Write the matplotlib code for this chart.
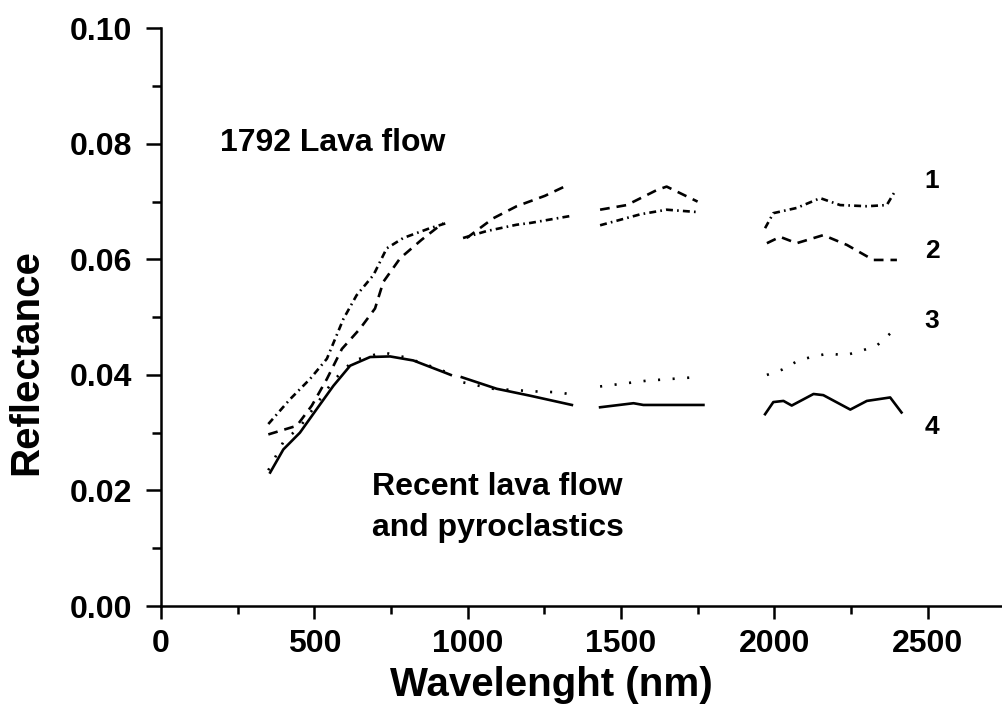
import numpy as np
import matplotlib
matplotlib.use("Agg")
import matplotlib.pyplot as plt
from matplotlib.ticker import MultipleLocator, FormatStrFormatter

nan = np.nan

# Spectra (gaps = NaN, atmospheric absorption bands)
wl_1 = [350, 421, 486, 541, 595, 638, 693, 736, 790, 877, 932, nan,
        985, 1062, 1160, 1204, 1334, nan,
        1432, 1563, 1649, 1747, nan,
        1970, 1997, 2073, 2150, 2215, 2302, 2367, 2394]
refl_1 = [0.0315, 0.0358, 0.0393, 0.0428, 0.0497, 0.0538, 0.0573, 0.0619, 0.0637, 0.0654, 0.0663, nan,
          0.0637, 0.0649, 0.0660, 0.0663, 0.0675, nan,
          0.0659, 0.0678, 0.0686, 0.0682, nan,
          0.0654, 0.0680, 0.0689, 0.0706, 0.0694, 0.0692, 0.0694, 0.0718]

wl_2 = [350, 443, 492, 541, 590, 649, 698, 725, 780, 850, 920, nan,
        997, 1083, 1160, 1252, 1328, nan,
        1432, 1519, 1617, 1649, 1715, 1750, nan,
        1976, 2019, 2073, 2160, 2237, 2323, 2400]
refl_2 = [0.0297, 0.0312, 0.0347, 0.0393, 0.0445, 0.0480, 0.0515, 0.0561, 0.0602, 0.0634, 0.0663, nan,
          0.0637, 0.0671, 0.0692, 0.0710, 0.0729, nan,
          0.0686, 0.0694, 0.0720, 0.0726, 0.0709, 0.0700, nan,
          0.0628, 0.0639, 0.0628, 0.0642, 0.0625, 0.0599, 0.0599]

wl_3 = [350, 400, 453, 508, 562, 627, 725, 800, 880, 940, nan,
        986, 1083, 1236, 1296, 1340, nan,
        1432, 1584, 1742, nan,
        1976, 2025, 2079, 2128, 2177, 2231, 2280, 2335, 2383]
refl_3 = [0.0235, 0.0285, 0.0310, 0.0350, 0.0390, 0.0425, 0.0439, 0.0430, 0.0415, 0.0403, nan,
          0.0387, 0.0376, 0.0371, 0.0370, 0.0366, nan,
          0.0380, 0.0390, 0.0396, nan,
          0.0400, 0.0409, 0.0425, 0.0432, 0.0437, 0.0434, 0.0441, 0.0451, 0.0474]

wl_4 = [356, 399, 453, 508, 562, 617, 682, 747, 823, 921, 945, nan,
        981, 1095, 1204, 1340, nan,
        1432, 1541, 1573, 1769, nan,
        1970, 1997, 2030, 2057, 2128, 2160, 2248, 2302, 2378, 2415]
refl_4 = [0.0231, 0.0271, 0.0300, 0.0341, 0.0381, 0.0416, 0.0431, 0.0432, 0.0425, 0.0405, 0.0400, nan,
          0.0396, 0.0376, 0.0364, 0.0348, nan,
          0.0344, 0.0351, 0.0348, 0.0348, nan,
          0.0332, 0.0353, 0.0355, 0.0347, 0.0367, 0.0365, 0.0340, 0.0355, 0.0361, 0.0335]

curve_labels = ["1", "2", "3", "4"]
label_y = [0.0736, 0.0614, 0.0494, 0.0310]

plt.rcParams['font.family'] = ['Liberation Sans', 'DejaVu Sans']
plt.rcParams['lines.scale_dashes'] = False

fig = plt.figure(figsize=(10.03, 7.16), dpi=100)
ax = fig.add_axes([161 / 1003, 110 / 716, 842 / 1003, 577.7 / 716])

lw = 1.9
ax.plot(wl_1, refl_1, color='black', lw=lw, linestyle=(0, (5, 3, 1.2, 3)))
ax.plot(wl_2, refl_2, color='black', lw=lw, linestyle=(0, (7, 5)))
ax.plot(wl_3, refl_3, color='black', lw=lw, linestyle=(0, (1.5, 9)))
ax.plot(wl_4, refl_4, color='black', lw=lw, linestyle='-')

for lab, y in zip(curve_labels, label_y):
    ax.text(2515, y, lab, fontsize=19, fontweight='bold', ha='center', va='center')

ax.text(192, 0.0788, "1792 Lava flow", fontsize=23, fontweight='bold', ha='left', va='baseline')
ax.text(687, 0.0192, "Recent lava flow", fontsize=23, fontweight='bold', ha='left', va='baseline')
ax.text(687, 0.0122, "and pyroclastics", fontsize=23, fontweight='bold', ha='left', va='baseline')

ax.set_xlim(0, 2746)
ax.set_ylim(0, 0.10)
ax.xaxis.set_major_locator(MultipleLocator(500))
ax.xaxis.set_minor_locator(MultipleLocator(250))
ax.yaxis.set_major_locator(MultipleLocator(0.02))
ax.yaxis.set_minor_locator(MultipleLocator(0.01))
ax.yaxis.set_major_formatter(FormatStrFormatter('%.2f'))

for s in ['top', 'right']:
    ax.spines[s].set_visible(False)
for s in ['left', 'bottom']:
    ax.spines[s].set_linewidth(1.8)

ax.tick_params(axis='y', which='major', length=10.5, width=1.8, pad=10, labelsize=23)
ax.tick_params(axis='y', which='minor', length=6.5, width=1.8)
ax.tick_params(axis='x', which='major', length=9.5, width=1.8, pad=7, labelsize=23)
ax.tick_params(axis='x', which='minor', length=5.8, width=1.8)
for t in ax.get_xticklabels() + ax.get_yticklabels():
    t.set_fontweight('bold')

fig.text(551 / 1003, 1 - 685 / 716, "Wavelenght (nm)", fontsize=29, fontweight='bold',
         ha='center', va='center')
fig.text(26 / 1003, 1 - 362 / 716, "Reflectance", fontsize=29, fontweight='bold',
         ha='center', va='center', rotation=90)

fig.savefig('out.png', dpi=100)
